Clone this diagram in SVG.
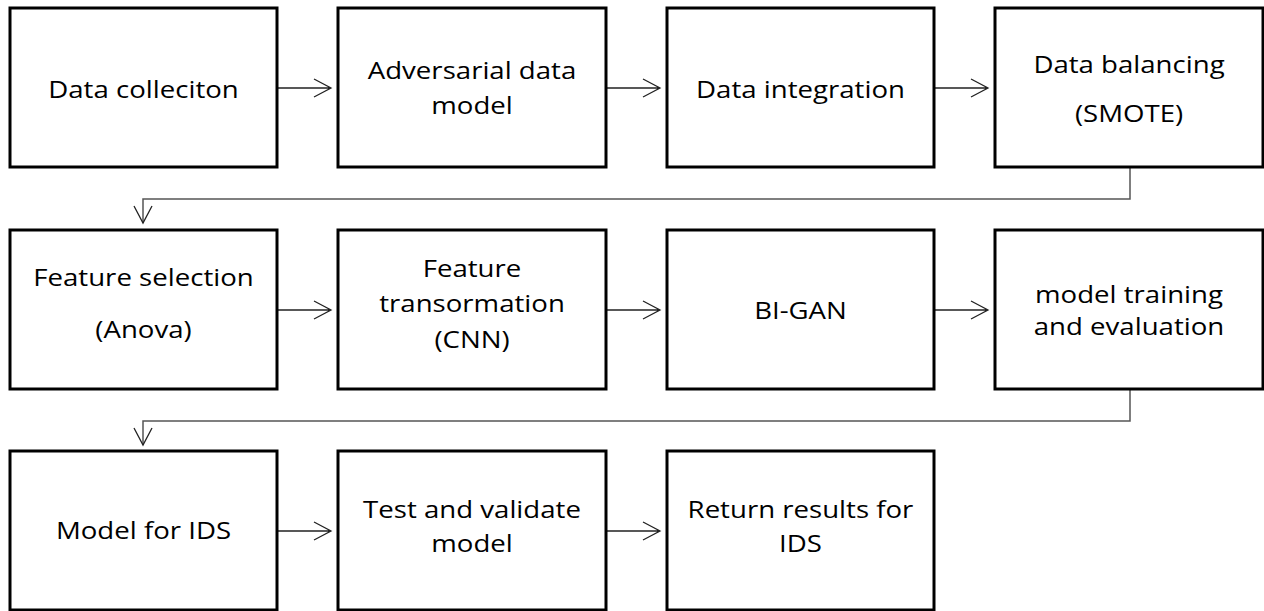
<svg xmlns="http://www.w3.org/2000/svg" width="1264" height="611" viewBox="0 0 1264 611">
<defs>
<style>
.box{fill:#fff;stroke:#000;stroke-width:3}
.t{font-family:"Open Sans","Liberation Sans",sans-serif;font-size:24px;fill:#000;text-anchor:middle}
.c{fill:none;stroke:#222;stroke-width:1.3}
.e{fill:none;stroke:#555;stroke-width:1.5}
.ah{fill:none;stroke:#222;stroke-width:1.3}
</style>
</defs>
<rect width="1264" height="611" fill="#fff"/>
<g id="connectors">
<path class="c" d="M277 88H331M314 79L331 88L314 97"/>
<path class="c" d="M606 88H660M643 79L660 88L643 97"/>
<path class="c" d="M934 88H988M971 79L988 88L971 97"/>
<path class="c" d="M277 310H331M314 301L331 310L314 319"/>
<path class="c" d="M606 310H660M643 301L660 310L643 319"/>
<path class="c" d="M934 310H988M971 301L988 310L971 319"/>
<path class="c" d="M277 531H331M314 522L331 531L314 540"/>
<path class="c" d="M606 531H660M643 522L660 531L643 540"/>
<path class="e" d="M1130 167V199H143V223"/>
<path class="ah" d="M134 206L143 223L152 206"/>
<path class="e" d="M1130 389V421H143V445"/>
<path class="ah" d="M134 428L143 445L152 428"/>
</g>
<g id="n1"><rect class="box" x="10" y="8" width="267" height="159"/><text class="t" transform="translate(143.5 98) scale(1.15 1)">Data colleciton</text></g>
<g id="n2"><rect class="box" x="338" y="8" width="268" height="159"/><text class="t" transform="translate(472 79) scale(1.15 1)">Adversarial data</text><text class="t" transform="translate(472 114) scale(1.15 1)">model</text></g>
<g id="n3"><rect class="box" x="667" y="8" width="267" height="159"/><text class="t" transform="translate(800.5 98) scale(1.15 1)">Data integration</text></g>
<g id="n4"><rect class="box" x="995" y="8" width="268" height="159"/><text class="t" transform="translate(1129 73) scale(1.15 1)">Data balancing</text><text class="t" transform="translate(1129 122) scale(1.15 1)">(SMOTE)</text></g>
<g id="n5"><rect class="box" x="10" y="230" width="267" height="159"/><text class="t" transform="translate(143.5 286) scale(1.15 1)">Feature selection</text><text class="t" transform="translate(143.5 338) scale(1.15 1)">(Anova)</text></g>
<g id="n6"><rect class="box" x="338" y="230" width="268" height="159"/><text class="t" transform="translate(472 277) scale(1.15 1)">Feature</text><text class="t" transform="translate(472 312) scale(1.15 1)">transormation</text><text class="t" transform="translate(472 348) scale(1.15 1)">(CNN)</text></g>
<g id="n7"><rect class="box" x="667" y="230" width="267" height="159"/><text class="t" transform="translate(800.5 319) scale(1.15 1)">BI-GAN</text></g>
<g id="n8"><rect class="box" x="995" y="230" width="268" height="159"/><text class="t" transform="translate(1129 303) scale(1.15 1)">model training</text><text class="t" transform="translate(1129 335) scale(1.15 1)">and evaluation</text></g>
<g id="n9"><rect class="box" x="10" y="451" width="267" height="159"/><text class="t" transform="translate(143.5 539) scale(1.15 1)">Model for IDS</text></g>
<g id="n10"><rect class="box" x="338" y="451" width="268" height="159"/><text class="t" transform="translate(472 518) scale(1.15 1)">Test and validate</text><text class="t" transform="translate(472 552) scale(1.15 1)">model</text></g>
<g id="n11"><rect class="box" x="667" y="451" width="267" height="159"/><text class="t" transform="translate(800.5 518) scale(1.15 1)">Return results for</text><text class="t" transform="translate(800.5 552) scale(1.15 1)">IDS</text></g>
</svg>
